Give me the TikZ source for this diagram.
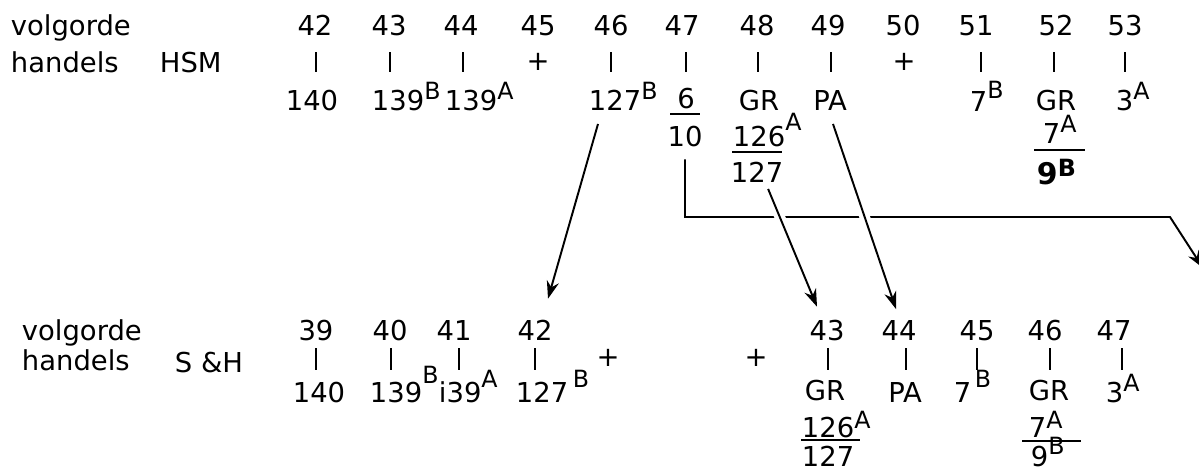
\documentclass[tikz,border=0pt]{standalone}
\usepackage{fontspec}
\setmainfont{DejaVu Sans}
\usetikzlibrary{arrows.meta,calc}

\newcommand{\hi}[2][5.7pt]{\raisebox{#1}{\fontsize{13.5}{14}\selectfont #2}}

\begin{document}
\begin{tikzpicture}[x=0.02cm,y=-0.02cm,line width=1.1pt,
  txt/.style={font=\fontsize{15.6}{18}\selectfont,inner sep=0pt,anchor=base},
  lab/.style={txt,anchor=base west},
  tick/.style={line width=1.4pt},
  arr/.style={-{Stealth[length=10pt,width=7pt]}},
  hop/.style={preaction={draw=white,line width=6pt,-}}]
  \useasboundingbox (0,0) rectangle (1199,470);

  % volgorde handels HSM
  \node[lab] (hv) at (10,35) {volgorde};
  \node[lab] (hh) at (10,72) {handels};
  \node[lab] (hs) at (159,72) {HSM};
  \foreach \n/\x in {42/315,43/389,44/461,45/538,46/611,47/682,48/757,49/828,50/903,51/976,52/1056,53/1125}
    \node[txt] (h\n) at (\x,35) {\n};
  \foreach \x in {316,390,463,611,686,758,831,981,1054,1125}
    \draw[tick] (\x,52) -- (\x,72);
  \node[txt,anchor=center] (hp45) at (538,62) {+};
  \node[txt,anchor=center] (hp50) at (904,62) {+};

  \node[txt] (hl42) at (312,110) {140};
  \node[lab] (hl43) at (371,110) {139\hi{B}};
  \node[lab] (hl44) at (444,110) {139\hi{A}};
  \node[lab] (hl46) at (588,110) {127\hi{B}};
  \node[txt] (hn47) at (686,108) {6};
  \draw (670,114) -- (700,114);
  \node[txt] (hd47) at (685,146) {10};
  \node[txt] (hg48) at (759,110) {GR};
  \node[lab] (hn48) at (732,146) {126\hi[9pt]{A}};
  \draw (732,152) -- (782,152);
  \node[lab] (hd48) at (730,182) {127};
  \node[txt] (hl49) at (830,110) {PA};
  \node[lab] (hl51) at (969,111) {7\hi[7.4pt]{B}};
  \node[txt] (hg52) at (1056,110) {GR};
  \node[lab] (hn52) at (1042,143) {7\hi{A}};
  \draw (1034,150) -- (1085,150);
  \node[lab,font=\fontsize{17}{20}\selectfont\bfseries] (hd52) at (1036,184) {9\hi[4pt]{B}};
  \node[lab] (hl53) at (1115,110) {3\hi{A}};

  % volgorde handels S&H
  \node[lab] (sv) at (21,340) {volgorde};
  \node[lab] (sh) at (21,370) {handels};
  \node[lab] (ss) at (174,372) {S \&H};
  \foreach \n/\x in {39/316,40/390,41/454,42/535,43/827,44/899,45/977,46/1045,47/1114}
    \node[txt] (s\n) at (\x,340) {\n};
  \foreach \x in {316,391,459,535,828,906,977,1050,1122}
    \draw[tick] (\x,348) -- (\x,370);
  \node[txt,anchor=center] (sp1) at (608,358) {+};
  \node[txt,anchor=center] (sp2) at (756,358) {+};

  \node[txt] (sl39) at (319,402) {140};
  \node[lab] (sl40) at (369,402) {139\hi[10.8pt]{B}};
  \node[lab] (sl41) at (438,402) {i39\hi[8.5pt]{A}};
  \node[lab] (sl42) at (515,402) {127\,\hi[8pt]{B}};
  \node[txt] (sg43) at (825,400) {GR};
  \node[lab] (sn43) at (801,437) {126\hi[5pt]{A}};
  \draw (801,440) -- (860,440);
  \node[lab] (sd43) at (801,466) {127};
  \node[txt] (sl44) at (905,402) {PA};
  \node[lab] (sl45) at (953,402) {7\hspace{2pt}\hi[8.5pt]{B}};
  \node[txt] (sg46) at (1049,400) {GR};
  \node[lab] (sn46) at (1028,437) {7\hi[5pt]{A}};
  \draw (1022,441) -- (1081,441);
  \node[lab] (sd46) at (1030,466) {9\hi[6.8pt]{B}};
  \node[lab] (sl47) at (1105,402) {3\hi{A}};

  % verschuivingen
  \coordinate (bend) at (1170,217);
  \coordinate (exit) at (1203,268);
  \draw[arr] ([yshift=-0.24cm]hd47.south) |- (bend) -- (exit);
  \draw[arr] ($(hl46.south west)+(10,13)$) -- ($(s42.north)+(13,-20)$);
  \draw[arr,hop] ($(hd48.south)+(11,6)$) -- ($(s43.north)+(-10,-12)$);
  \draw[arr,hop] ($(hl49.south)+(3,13)$) -- ($(s44.north)+(-3,-10)$);
\end{tikzpicture}
\end{document}
